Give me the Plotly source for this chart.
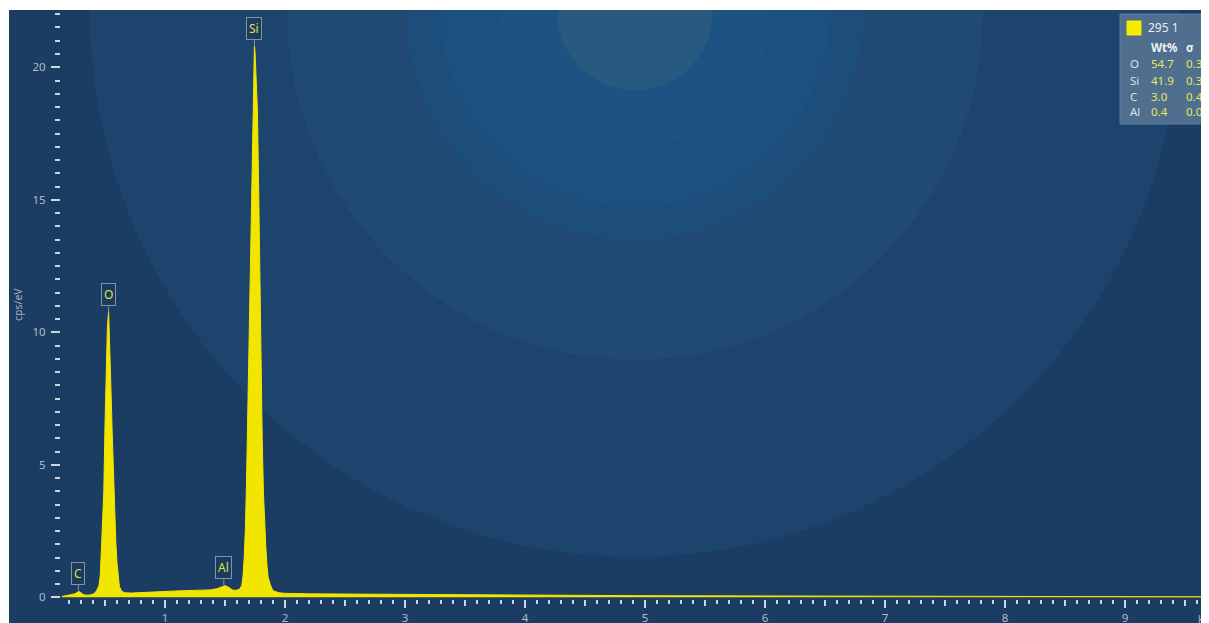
import plotly.graph_objects as go

# ---------------- data ----------------
energy_kev = [0.14, 0.17, 0.20, 0.23, 0.25, 0.27, 0.285, 0.30, 0.32, 0.35, 0.38, 0.41, 0.43,
              0.45, 0.46, 0.47, 0.48, 0.49, 0.50, 0.51, 0.52, 0.53, 0.54, 0.55, 0.56, 0.57,
              0.58, 0.59, 0.60, 0.61, 0.62, 0.64, 0.67, 0.72, 0.80, 0.90, 1.00, 1.10, 1.20,
              1.30, 1.38, 1.43, 1.47, 1.50, 1.53, 1.56, 1.59, 1.62, 1.64, 1.65, 1.66, 1.67,
              1.68, 1.69, 1.70, 1.71, 1.72, 1.73, 1.74, 1.745, 1.75, 1.76, 1.77, 1.78, 1.79,
              1.80, 1.81, 1.82, 1.83, 1.84, 1.85, 1.86, 1.88, 1.90, 1.95, 2.00, 2.20, 2.50,
              3.00, 3.50, 4.00, 4.50, 5.00, 5.50, 6.00, 6.50, 7.00, 7.50, 8.00, 8.50, 9.00, 9.77]
counts_cps_ev = [0.03, 0.05, 0.07, 0.09, 0.13, 0.19, 0.22, 0.17, 0.10, 0.08, 0.09, 0.14, 0.25,
                 0.45, 0.80, 1.80, 2.90, 4.00, 6.50, 8.60, 10.2, 10.8, 9.60, 7.80, 6.20, 4.60,
                 3.20, 2.10, 1.30, 0.70, 0.40, 0.22, 0.17, 0.16, 0.17, 0.19, 0.22, 0.24, 0.25,
                 0.26, 0.28, 0.32, 0.40, 0.44, 0.38, 0.28, 0.26, 0.30, 0.45, 0.80, 1.50, 2.60,
                 4.50, 7.00, 9.50, 12.8, 15.6, 18.2, 20.3, 20.8, 20.6, 19.6, 18.4, 15.6, 12.0,
                 8.60, 6.00, 4.00, 2.80, 1.90, 1.20, 0.75, 0.45, 0.25, 0.17, 0.15, 0.13, 0.12,
                 0.10, 0.09, 0.08, 0.07, 0.06, 0.055, 0.05, 0.045, 0.04, 0.035, 0.03, 0.03, 0.025, 0.02]

peak_labels = ["C", "O", "Al", "Si"]
peak_energy = [0.278, 0.53, 1.49, 1.745]
peak_height = [0.25, 10.75, 0.45, 20.8]

legend_title = "295 1"
elements = ["O", "Si", "C", "Al"]
wt_percent = ["54.7", "41.9", "3.0", "0.4"]
sigma = ["0.3", "0.3", "0.4", "0.0"]

y_tick_vals = [0, 5, 10, 15, 20]
y_tick_text = ["0", "5", "10", "15", "20"]
x_tick_vals = [1, 2, 3, 4, 5, 6, 7, 8, 9]
x_tick_text = ["1", "2", "3", "4", "5", "6", "7", "8", "9"]
x_half_ticks = [0.5, 1.5, 2.5, 3.5, 4.5, 5.5, 6.5, 7.5, 8.5, 9.5]
y_title = "cps/eV"
x_unit = "keV"

# ---------------- layout geometry ----------------
# the page body adds an 8 px offset; helpers below take on-screen pixel positions
OFF = 8
W, H = 1209, 623
L, R, T, B = 53, 0, 2, 32
PW, PH = W - L - R, H - T - B
FONT = "Noto Sans"


def px(x):
    return (x - OFF - L) / PW


def py(y):
    return (H - B - (y - OFF)) / PH


YELLOW = "#f2e600"
TICK = "#cdd5df"
LABEL = "#aebbc9"

fig = go.Figure()
fig.add_trace(go.Scatter(x=energy_kev, y=counts_cps_ev, mode="lines",
                         line=dict(color=YELLOW, width=1), fill="tozeroy",
                         fillcolor=YELLOW, hoverinfo="skip", showlegend=False))
fig.add_trace(go.Scatter(x=[None], y=[None], xaxis="x2", showlegend=False, hoverinfo="skip"))

shapes = []
cx, cy = 635, 12
rings = [(545, "#1c446c"), (348, "#204a74"), (228, "#1d4e7b"), (195, "#1c507f"),
         (135, "#1c5383"), (78, "#28597e")]
for r, c in rings:
    shapes.append(dict(type="circle", xref="paper", yref="paper", layer="below",
                       xsizemode="pixel", ysizemode="pixel", xanchor=px(cx), yanchor=py(cy),
                       x0=-r, x1=r, y0=-r, y1=r, fillcolor=c, line=dict(width=0)))
# thin light border at top / left as in the reference
shapes.append(dict(type="rect", xref="paper", yref="paper", layer="below",
                   x0=px(0), x1=px(1230), y0=py(10), y1=py(0), fillcolor="white", line=dict(width=0)))
shapes.append(dict(type="rect", xref="paper", yref="paper", layer="below",
                   x0=px(0), x1=px(9), y0=py(640), y1=py(0), fillcolor="white", line=dict(width=0)))
# legend box
shapes.append(dict(type="rect", xref="paper", yref="paper", layer="above",
                   x0=px(1120), x1=px(1222), y0=py(124), y1=py(14),
                   fillcolor="#506f8e", line=dict(color="#5d7a98", width=1)))
shapes.append(dict(type="rect", xref="paper", yref="paper", layer="above",
                   x0=px(1127), x1=px(1141), y0=py(35), y1=py(21),
                   fillcolor="#f5ec00", line=dict(color="#f5ec00", width=1)))

annotations = []
for lab, e, h in zip(peak_labels, peak_energy, peak_height):
    annotations.append(dict(x=e, y=h, xref="x", yref="y", text=lab, showarrow=True,
                            arrowhead=0, arrowwidth=1, arrowcolor="#8193a6", ax=0, ay=-6,
                            yanchor="bottom", font=dict(family=FONT, size=12, color="#dfe33c"),
                            bgcolor="rgba(28,58,92,0.85)", bordercolor="#8193a6",
                            borderwidth=1, borderpad=2))

annotations.append(dict(x=px(1146), y=py(28), xref="paper", yref="paper", text=legend_title,
                        showarrow=False, xanchor="left", yanchor="middle",
                        font=dict(family=FONT, size=12, color="#e6ebf1")))
annotations.append(dict(x=px(1149), y=py(47), xref="paper", yref="paper", text="<b>Wt%</b>",
                        showarrow=False, xanchor="left", yanchor="middle",
                        font=dict(family=FONT, size=11.5, color="#eef2f6")))
annotations.append(dict(x=px(1184), y=py(47), xref="paper", yref="paper", text="<b>σ</b>",
                        showarrow=False, xanchor="left", yanchor="middle",
                        font=dict(family=FONT, size=11.5, color="#eef2f6")))
row_y = [64, 80, 96, 112]
for el, wt, sg, ry in zip(elements, wt_percent, sigma, row_y):
    annotations.append(dict(x=px(1128), y=py(ry), xref="paper", yref="paper", text=el,
                            showarrow=False, xanchor="left", yanchor="middle",
                            font=dict(family=FONT, size=11.5, color="#dbe1e8")))
    annotations.append(dict(x=px(1149), y=py(ry), xref="paper", yref="paper", text=wt,
                            showarrow=False, xanchor="left", yanchor="middle",
                            font=dict(family=FONT, size=11.5, color="#e8e85a")))
    annotations.append(dict(x=px(1184), y=py(ry), xref="paper", yref="paper", text=sg,
                            showarrow=False, xanchor="left", yanchor="middle",
                            font=dict(family=FONT, size=11.5, color="#e8e85a")))

annotations.append(dict(x=px(18), y=py(305), xref="paper", yref="paper", text=y_title,
                        showarrow=False, textangle=-90, xanchor="center", yanchor="middle",
                        font=dict(family=FONT, size=10.5, color="#a3b3c4")))
annotations.append(dict(x=px(1196), y=py(618), xref="paper", yref="paper", text=x_unit,
                        showarrow=False, xanchor="left", yanchor="middle",
                        font=dict(family=FONT, size=11, color=LABEL)))

xr = [(61 - 45) / 120.0, (1217 - 45) / 120.0]
fig.update_layout(
    width=W, height=H,
    margin=dict(l=L, r=R, t=T, b=B, pad=0),
    paper_bgcolor="#1b3d64", plot_bgcolor="rgba(0,0,0,0)",
    font=dict(family=FONT),
    showlegend=False,
    shapes=shapes, annotations=annotations,
    xaxis=dict(range=xr, showgrid=False, zeroline=False, showline=False,
               tickmode="array", tickvals=x_tick_vals, ticktext=x_tick_text,
               ticks="outside", ticklen=8, tickwidth=1.5, tickcolor=TICK,
               tickfont=dict(family=FONT, size=11.5, color=LABEL),
               minor=dict(dtick=0.1, tick0=0, ticks="outside", ticklen=4, tickwidth=1.5,
                          tickcolor=TICK, showgrid=False)),
    xaxis2=dict(range=xr, overlaying="x", side="bottom", showgrid=False, zeroline=False,
                showline=False, tickmode="array", tickvals=x_half_ticks,
                ticktext=["" for _ in x_half_ticks], ticks="outside", ticklen=6,
                tickwidth=1.5, tickcolor=TICK, showticklabels=False),
    yaxis=dict(range=[-0.064, 22.16], showgrid=False, zeroline=False, showline=False,
               tickmode="array", tickvals=y_tick_vals, ticktext=y_tick_text,
               ticks="outside", ticklen=9, tickwidth=2, tickcolor=TICK,
               ticklabelstandoff=3,
               tickfont=dict(family=FONT, size=11.5, color=LABEL),
               minor=dict(dtick=0.5, tick0=0, ticks="outside", ticklen=5, tickwidth=2,
                          tickcolor=TICK, showgrid=False)),
)

fig.write_html("out.html",
               post_script="document.documentElement.style.overflow='hidden';"
                           "document.body.style.overflow='hidden';")
